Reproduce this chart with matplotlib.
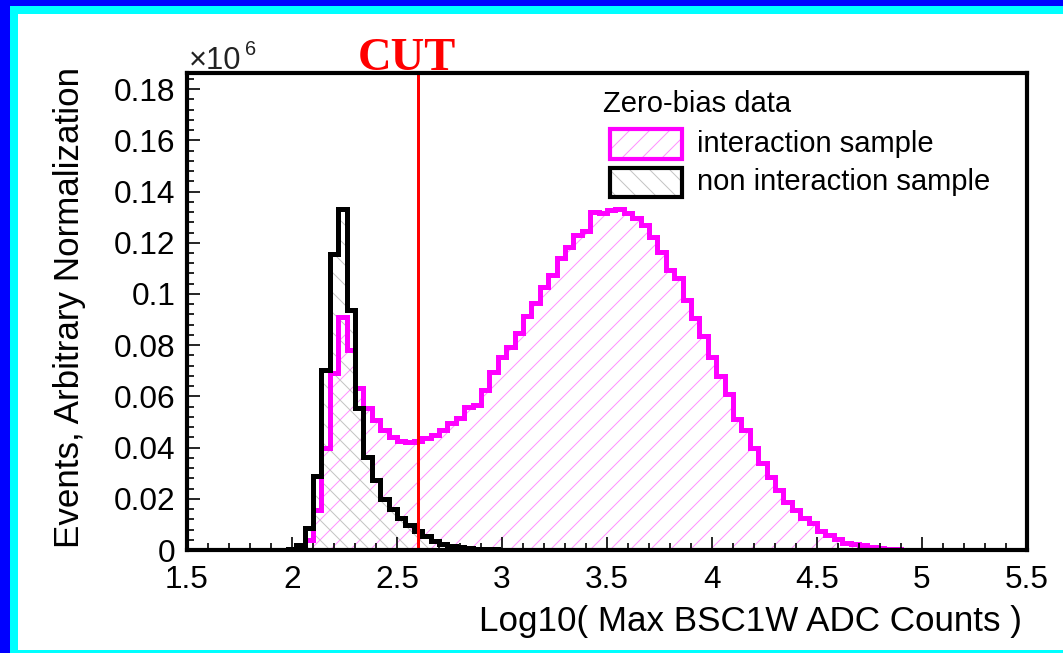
import numpy as np
import matplotlib
matplotlib.use('Agg')
import matplotlib.pyplot as plt
from matplotlib.patches import Rectangle
from matplotlib.ticker import MultipleLocator

plt.rcParams['font.family'] = ['Liberation Sans', 'DejaVu Sans']
plt.rcParams['hatch.linewidth'] = 0.6

W, H, DPI = 1063, 653, 120

# histogram binning: 100 bins from 1.5 to 5.5
bin_edges = np.linspace(1.5, 5.5, 101)

# interaction sample, bins 13..84
inter_first = 13
inter_vals = [0.0008, 0.0040, 0.0156, 0.0400, 0.0690, 0.0910, 0.0780, 0.0633,
              0.0553, 0.0508, 0.0469, 0.0440, 0.0427, 0.0423, 0.0427, 0.0436,
              0.0449, 0.0469, 0.0495, 0.0515, 0.0558, 0.0565, 0.0625, 0.0697,
              0.0755, 0.0794, 0.0846, 0.0914, 0.0964, 0.1029, 0.1074, 0.1139,
              0.1185, 0.1230, 0.1245, 0.1322, 0.1318, 0.1328, 0.1331, 0.1315,
              0.1296, 0.1270, 0.1224, 0.1165, 0.1094, 0.1061, 0.0977, 0.0905,
              0.0837, 0.0752, 0.0680, 0.0608, 0.0511, 0.0469, 0.0397, 0.0339,
              0.0286, 0.0234, 0.0189, 0.0156, 0.0124, 0.0104, 0.0076, 0.0059,
              0.0042, 0.0029, 0.0023, 0.0018, 0.0013, 0.0008, 0.0004, 0.0002]

# non interaction sample, bins 12..38
noint_first = 12
noint_vals = [0.0004, 0.0018, 0.0085, 0.0290, 0.0703, 0.1155, 0.1331, 0.0938,
              0.0553, 0.0365, 0.0273, 0.0200, 0.0160, 0.0125, 0.0099, 0.0073,
              0.0053, 0.0035, 0.0024, 0.0017, 0.0012, 0.0008, 0.0005, 0.0003,
              0.0002, 0.0001, 0.0001]

cut_value = 2.6
x_ticks = [1.5, 2, 2.5, 3, 3.5, 4, 4.5, 5, 5.5]
x_tick_labels = ['1.5', '2', '2.5', '3', '3.5', '4', '4.5', '5', '5.5']
y_ticks = [0, 0.02, 0.04, 0.06, 0.08, 0.10, 0.12, 0.14, 0.16, 0.18]
y_tick_labels = ['0', '0.02', '0.04', '0.06', '0.08', '0.1', '0.12', '0.14', '0.16', '0.18']

PINK = '#ff00ff'
PINK_HATCH = '#ff90ff'
GRAY_HATCH = '#c4c4c4'

fig = plt.figure(figsize=(W / DPI, H / DPI), dpi=DPI)
fig.patch.set_facecolor('white')


def px_rect(x0, y0, x1, y1, color):
    # rectangle given in pixel coords (y from top)
    fig.patches.append(Rectangle((x0 / W, 1 - y1 / H), (x1 - x0) / W, (y1 - y0) / H,
                                 transform=fig.transFigure, color=color, lw=0, zorder=0))


# slide frame
px_rect(0, 0, 10, H, '#0000ff')
px_rect(0, 0, W, 6, '#0000ff')
px_rect(10, 6, 18, H, '#00ffff')
px_rect(10, 6, W, 14, '#00ffff')
px_rect(10, 650, W, H, '#00ffff')

ax = fig.add_axes([187 / W, 1 - 550 / H, (1027 - 187) / W, (550 - 73) / H])

e_int = bin_edges[inter_first:inter_first + len(inter_vals) + 1]
e_non = bin_edges[noint_first:noint_first + len(noint_vals) + 1]

ax.stairs(inter_vals, e_int, fill=True, facecolor='none', edgecolor=PINK_HATCH,
          hatch='//', linewidth=0, zorder=1)
ax.stairs(noint_vals, e_non, fill=True, facecolor='none', edgecolor=GRAY_HATCH,
          hatch='\\\\', linewidth=0, zorder=1.1)
ax.stairs(inter_vals, e_int, baseline=0, color=PINK, linewidth=3, zorder=1.5)
ax.stairs(noint_vals, e_non, baseline=0, color='black', linewidth=3, zorder=1.6)

ax.axvline(cut_value, color='red', linewidth=1.8, zorder=3)

ax.set_xlim(1.5, 5.5)
ax.set_ylim(0, 0.1863)
ax.set_xticks(x_ticks)
ax.set_xticklabels(x_tick_labels)
ax.set_yticks(y_ticks)
ax.set_yticklabels(y_tick_labels)
ax.xaxis.set_minor_locator(MultipleLocator(0.1))
ax.yaxis.set_minor_locator(MultipleLocator(0.004))
ax.tick_params(axis='both', which='both', direction='in', width=1, color='black')
ax.tick_params(axis='both', which='major', length=8, labelsize=19)
ax.tick_params(axis='both', which='minor', length=4)
ax.tick_params(axis='x', which='major', pad=9)
ax.tick_params(axis='y', which='major', pad=7)
for sp in ax.spines.values():
    sp.set_linewidth(2.5)
    sp.set_zorder(5)

fig.text(1022 / W, 1 - 622 / H, 'Log10( Max BSC1W ADC Counts )', fontsize=21,
         ha='right', va='center')
fig.text(70 / W, 1 - 307 / H, 'Events, Arbitrary Normalization', fontsize=21,
         rotation=90, ha='center', va='center')

fig.text(189 / W, 1 - 69 / H, '\u00d710', fontsize=18.5, color='#222222', va='baseline')
fig.text(245 / W, 1 - 55 / H, '6', fontsize=12, color='#222222', va='baseline')

fig.text(407 / W, 1 - 70 / H, 'CUT', fontsize=28, color='red', ha='center',
         va='baseline', family='Liberation Serif', weight='bold')

# legend, drawn by hand in pixel space
fig.text(603 / W, 1 - 104 / H, 'Zero-bias data', fontsize=17.5, va='center')
leg = [(129, 159, PINK, PINK_HATCH, '//', 'interaction sample'),
       (168, 197, 'black', GRAY_HATCH, '\\\\', 'non interaction sample')]
for y0, y1, ec, hc, hatch, label in leg:
    r = Rectangle((610 / W, 1 - y1 / H), 72 / W, (y1 - y0) / H, transform=fig.transFigure,
                  facecolor='none', edgecolor=hc, hatch=hatch, lw=0)
    fig.patches.append(r)
    fig.patches.append(Rectangle((610 / W, 1 - y1 / H), 72 / W, (y1 - y0) / H,
                                 transform=fig.transFigure, facecolor='none',
                                 edgecolor=ec, lw=2.5))
    fig.text(697 / W, 1 - (y0 + y1) / 2 / H, label, fontsize=17.5, va='center')

fig.savefig('out.png', dpi=DPI)
